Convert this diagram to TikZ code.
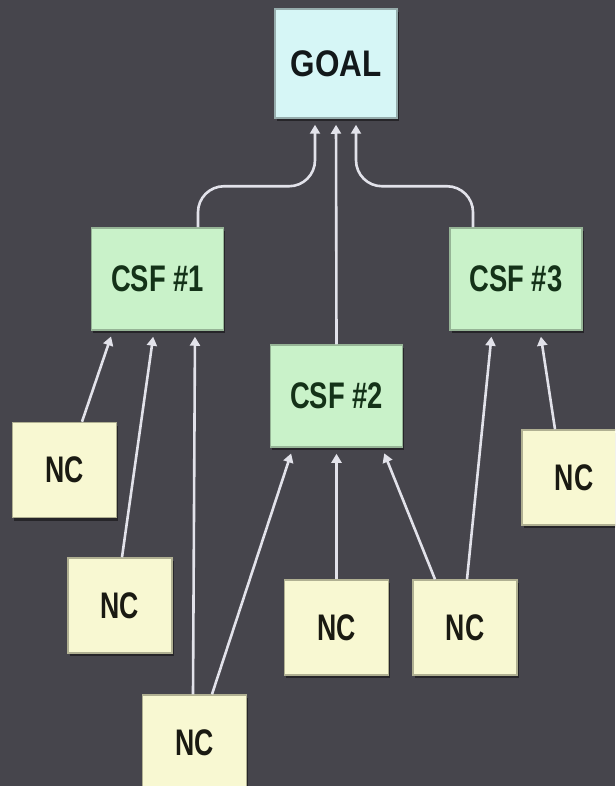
\documentclass[tikz,border=0pt]{standalone}
\usepackage{fontspec}
\setmainfont{Liberation Sans}
\usetikzlibrary{arrows.meta,shadows}
\definecolor{board}{RGB}{70,69,76}
\definecolor{goalfill}{RGB}{214,246,246}
\definecolor{goalline}{RGB}{150,172,172}
\definecolor{csffill}{RGB}{201,242,201}
\definecolor{csfline}{RGB}{150,180,150}
\definecolor{ncfill}{RGB}{248,248,210}
\definecolor{ncline}{RGB}{176,176,146}
\definecolor{goaltext}{RGB}{18,24,26}
\definecolor{csftext}{RGB}{20,50,24}
\definecolor{nctext}{RGB}{26,26,18}
\definecolor{linkc}{RGB}{226,226,234}
\newcommand{\squeezetxt}[2]{\scalebox{#1}[1]{#2}}
\begin{document}
\begin{tikzpicture}[x=1pt,y=-1pt,
  box/.style={draw, line width=1.5pt, inner sep=0pt,
    font=\bfseries\fontsize{37}{37}\selectfont,
    drop shadow={shadow xshift=1.5pt, shadow yshift=-3pt, fill=black, opacity=0.45}},
  goalbox/.style={box, fill=goalfill, draw=goalline, text=goaltext,
    minimum width=122pt, minimum height=109pt},
  csfbox/.style={box, fill=csffill, draw=csfline, text=csftext,
    minimum width=132pt, minimum height=102pt},
  ncbox/.style={box, fill=ncfill, draw=ncline, text=nctext,
    minimum width=104pt, minimum height=95pt},
  link/.style={draw=linkc, line width=2.6pt,
    -{Triangle[length=9pt,width=10pt]}, shorten >=6pt}
]
\useasboundingbox (0,0) rectangle (615,786);
\clip (0,0) rectangle (615,786);
\fill[board] (0,0) rectangle (615,786);

\node[goalbox] (goal) at (336,63.5) {\squeezetxt{0.85}{GOAL}};
\node[csfbox] (csf1) at (157.5,279) {\squeezetxt{0.74}{CSF \#1}};
\node[csfbox] (csf2) at (336.5,396) {\squeezetxt{0.74}{CSF \#2}};
\node[csfbox] (csf3) at (516,279) {\squeezetxt{0.74}{CSF \#3}};
\node[ncbox] (nc1) at (64.5,470) {\squeezetxt{0.72}{NC}};
\node[ncbox] (nc2) at (120,605.5) {\squeezetxt{0.72}{NC}};
\node[ncbox] (nc3) at (194.5,742.5) {\squeezetxt{0.72}{NC}};
\node[ncbox] (nc4) at (336.5,627.5) {\squeezetxt{0.72}{NC}};
\node[ncbox] (nc5) at (465,627.5) {\squeezetxt{0.72}{NC}};
\node[ncbox] (nc6) at (574,477.5) {\squeezetxt{0.72}{NC}};

% CSFs to goal
\draw[link, rounded corners=26pt] ([xshift=40.5pt]csf1.north) -- ++(0,-41) -| ([xshift=-21pt]goal.south);
\draw[link] (csf2.north) -- (goal.south);
\draw[link, rounded corners=26pt] ([xshift=-43pt]csf3.north) -- ++(0,-41) -| ([xshift=20pt]goal.south);

% NCs to CSF #1
\draw[link] ([xshift=17.5pt]nc1.north) -- ([xshift=-44.5pt]csf1.south);
\draw[link] ([xshift=2pt]nc2.north) -- ([xshift=-3.5pt]csf1.south);
\draw[link] ([xshift=-1.5pt]nc3.north) -- ([xshift=37.5pt]csf1.south);

% NCs to CSF #2
\draw[link] ([xshift=17.5pt]nc3.north) -- ([xshift=-43.5pt]csf2.south);
\draw[link] (nc4.north) -- (csf2.south);
\draw[link] ([xshift=-30pt]nc5.north) -- ([xshift=45.5pt]csf2.south);

% NCs to CSF #3
\draw[link] ([xshift=2pt]nc5.north) -- ([xshift=-24pt]csf3.south);
\draw[link] ([xshift=-19pt]nc6.north) -- ([xshift=24pt]csf3.south);
\end{tikzpicture}
\end{document}
